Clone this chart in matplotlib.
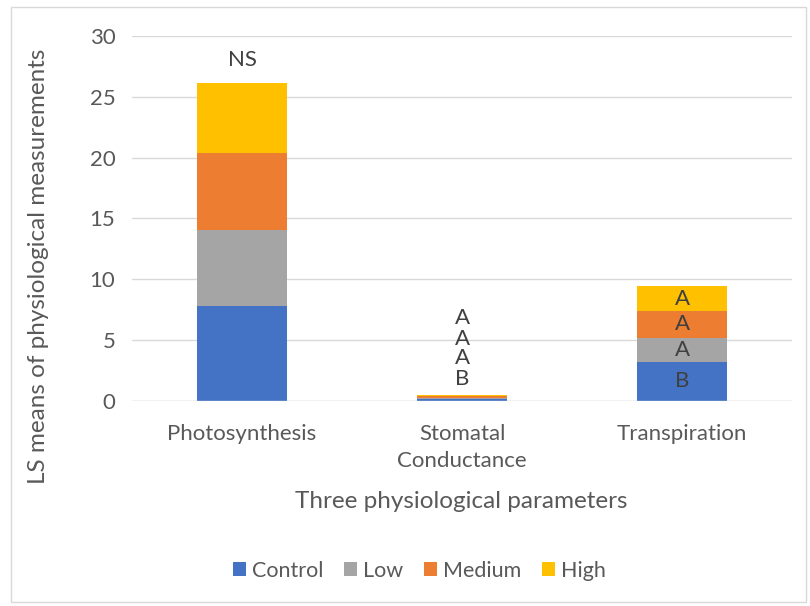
import numpy as np
import matplotlib.pyplot as plt
from matplotlib.patches import Rectangle

# LS means per treatment level
parameters = ['Photosynthesis', 'Stomatal\nConductance', 'Transpiration']
levels = ['Control', 'Low', 'Medium', 'High']
control = [7.8, 0.12, 3.2]
low = [6.2, 0.10, 1.94]
medium = [6.4, 0.12, 2.24]
high = [5.7, 0.13, 2.02]
colors = ['#4472C4', '#A5A5A5', '#ED7D31', '#FFC000']

# significance letters
stomatal_letters = ['B', 'A', 'A', 'A']
transp_letters = ['B', 'A', 'A', 'A']

plt.rcParams['font.family'] = ['Lato', 'DejaVu Sans']
txt = '#595959'
fs = 16

fig = plt.figure(figsize=(8.1, 6.06), dpi=100)
ax = fig.add_axes([0.163, 0.339, 0.815, 0.6016])

x = np.arange(len(parameters))
bottom = np.zeros(len(parameters))
for name, vals, c in zip(levels, [control, low, medium, high], colors):
    ax.bar(x, vals, 0.41, bottom=bottom, color=c, label=name, zorder=3)
    bottom += np.array(vals)

ax.set_xlim(-0.5, 2.5)
ax.set_ylim(0, 30)
ax.set_yticks(range(0, 31, 5))
ax.yaxis.grid(True, color='#D9D9D9', linewidth=1, zorder=0)
for s in ax.spines.values():
    s.set_visible(False)
ax.axhline(0, color='#D9D9D9', linewidth=1, zorder=4)
ax.tick_params(length=0, colors=txt, labelsize=fs)
ax.tick_params(axis='x', pad=17)
ax.tick_params(axis='y', pad=12)
ax.set_xticks(x)
ax.set_xticklabels(parameters, color=txt, linespacing=1.45)

# letters above photosynthesis and stomatal conductance
ax.text(0, bottom[0] + 1.9, 'NS', ha='center', va='center', fontsize=fs, color='#404040')
for lt, yv in zip(stomatal_letters, [1.8, 3.5, 5.1, 6.8]):
    ax.text(1, yv, lt, ha='center', va='center', fontsize=fs, color='#404040')

# letters inside transpiration segments
seg_bottom = 0
for lt, vals in zip(transp_letters, [control, low, medium, high]):
    v = vals[2]
    ax.text(2, seg_bottom + v / 2, lt, ha='center', va='center', fontsize=fs,
            color='#404040', zorder=5)
    seg_bottom += v

fig.text(0.047, 0.561, 'LS means of physiological measurements', rotation=90,
         ha='center', va='center', fontsize=17.5, color=txt)
fig.text(0.569, 0.172, 'Three physiological parameters', ha='center', va='center',
         fontsize=17.5, color=txt)

handles, labels = ax.get_legend_handles_labels()
leg = fig.legend(handles, labels, loc='center', bbox_to_anchor=(0.518, 0.058), ncol=4,
                 frameon=False, fontsize=15.5, handlelength=0.6, handleheight=0.6,
                 handletextpad=0.3, columnspacing=0.95)
for t in leg.get_texts():
    t.set_color(txt)

fig.patches.append(Rectangle((0.013, 0.006), 0.982, 0.983, transform=fig.transFigure,
                             fill=False, edgecolor='#D9D9D9', linewidth=1))

fig.savefig('out.png', dpi=100)
